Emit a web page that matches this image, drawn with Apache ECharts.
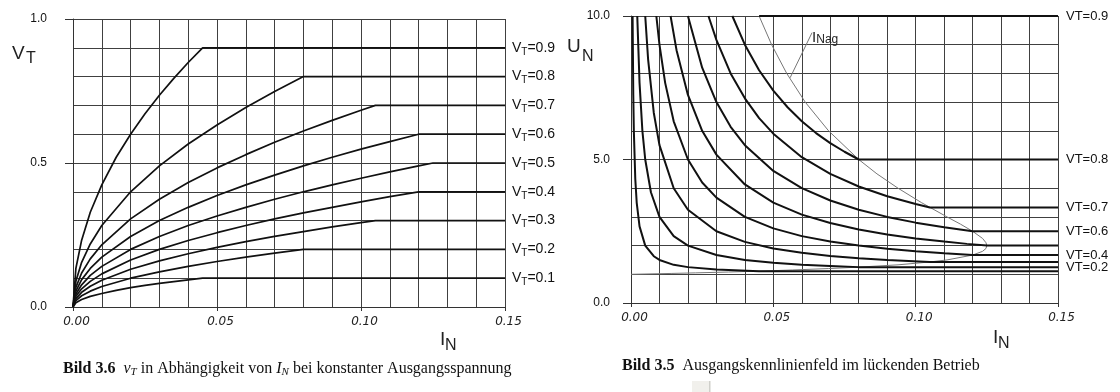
<!DOCTYPE html>
<html>
<head>
<meta charset="utf-8">
<script src="https://cdn.jsdelivr.net/npm/echarts@6/dist/echarts.min.js"></script>
<style>
html,body{margin:0;padding:0;background:#fff;}
#c{width:1120px;height:392px;}
</style>
</head>
<body>
<div id="c"></div>
<script>
// ---------- Left chart (Bild 3.6): v_T vs I_N ----------
const leftLevels = ['0.9','0.8','0.7','0.6','0.5','0.4','0.3','0.2','0.1'];
const leftV09 = [[0,0],[0.001,0.134],[0.003,0.232],[0.006,0.329],[0.01,0.424],[0.015,0.52],[0.02,0.6],[0.025,0.671],[0.03,0.735],[0.035,0.794],[0.04,0.849],[0.045,0.9],[0.15,0.9]];
const leftV08 = [[0,0],[0.001,0.089],[0.003,0.155],[0.006,0.219],[0.01,0.283],[0.02,0.4],[0.03,0.49],[0.04,0.566],[0.05,0.632],[0.06,0.693],[0.07,0.748],[0.08,0.8],[0.15,0.8]];
const leftV07 = [[0,0],[0.001,0.068],[0.003,0.118],[0.006,0.167],[0.01,0.216],[0.02,0.306],[0.03,0.374],[0.04,0.432],[0.05,0.483],[0.06,0.529],[0.07,0.572],[0.08,0.611],[0.09,0.648],[0.1,0.683],[0.105,0.7],[0.15,0.7]];
const leftV06 = [[0,0],[0.001,0.055],[0.003,0.095],[0.006,0.134],[0.01,0.173],[0.02,0.245],[0.03,0.3],[0.04,0.346],[0.05,0.387],[0.06,0.424],[0.07,0.458],[0.08,0.49],[0.09,0.52],[0.1,0.548],[0.11,0.574],[0.12,0.6],[0.15,0.6]];
const leftV05 = [[0,0],[0.001,0.045],[0.003,0.077],[0.006,0.11],[0.01,0.141],[0.02,0.2],[0.03,0.245],[0.04,0.283],[0.05,0.316],[0.06,0.346],[0.07,0.374],[0.08,0.4],[0.09,0.424],[0.1,0.447],[0.11,0.469],[0.12,0.49],[0.125,0.5],[0.15,0.5]];
const leftV04 = [[0,0],[0.001,0.037],[0.003,0.063],[0.006,0.089],[0.01,0.115],[0.02,0.163],[0.03,0.2],[0.04,0.231],[0.05,0.258],[0.06,0.283],[0.07,0.306],[0.08,0.327],[0.09,0.346],[0.1,0.365],[0.11,0.383],[0.12,0.4],[0.15,0.4]];
const leftV03 = [[0,0],[0.001,0.029],[0.003,0.051],[0.006,0.072],[0.01,0.093],[0.02,0.131],[0.03,0.16],[0.04,0.185],[0.05,0.207],[0.06,0.227],[0.07,0.245],[0.08,0.262],[0.09,0.278],[0.1,0.293],[0.105,0.3],[0.15,0.3]];
const leftV02 = [[0,0],[0.001,0.022],[0.003,0.039],[0.006,0.055],[0.01,0.071],[0.02,0.1],[0.03,0.122],[0.04,0.141],[0.05,0.158],[0.06,0.173],[0.07,0.187],[0.08,0.2],[0.15,0.2]];
const leftV01 = [[0,0],[0.001,0.015],[0.003,0.026],[0.006,0.037],[0.01,0.047],[0.015,0.058],[0.02,0.067],[0.025,0.075],[0.03,0.082],[0.035,0.088],[0.04,0.094],[0.045,0.1],[0.15,0.1]];
const leftCurves = [leftV09,leftV08,leftV07,leftV06,leftV05,leftV04,leftV03,leftV02,leftV01];

// ---------- Right chart (Bild 3.5): U_N vs I_N ----------
const rightLevels = ['0.9','0.8','0.7','0.6','0.5','0.4','0.3','0.2','0.1'];
const rightLabelled = ['0.9','0.8','0.7','0.6','0.4','0.2'];
const right09 = [[0.045,10],[0.15,10]];
const right08 = [[0.0356,10],[0.04,9.0],[0.045,8.11],[0.05,7.4],[0.055,6.82],[0.06,6.33],[0.065,5.92],[0.07,5.57],[0.075,5.27],[0.08,5.0],[0.15,5.0]];
const right07 = [[0.0272,10],[0.03,9.17],[0.035,8.0],[0.04,7.13],[0.045,6.44],[0.05,5.9],[0.06,5.08],[0.07,4.5],[0.08,4.06],[0.09,3.72],[0.1,3.45],[0.105,3.33],[0.15,3.33]];
const right06 = [[0.02,10],[0.025,8.2],[0.03,7.0],[0.035,6.14],[0.04,5.5],[0.05,4.6],[0.06,4.0],[0.07,3.57],[0.08,3.25],[0.09,3.0],[0.1,2.8],[0.11,2.64],[0.12,2.5],[0.15,2.5]];
const right05 = [[0.0139,10],[0.016,8.81],[0.02,7.25],[0.025,6.0],[0.03,5.17],[0.04,4.13],[0.05,3.5],[0.06,3.08],[0.07,2.79],[0.08,2.56],[0.09,2.39],[0.1,2.25],[0.11,2.14],[0.118,2.06],[0.125,2.0],[0.15,2.0]];
const right04 = [[0.0089,10],[0.01,9.0],[0.012,7.67],[0.015,6.33],[0.02,5.0],[0.025,4.2],[0.03,3.67],[0.04,3.0],[0.05,2.6],[0.06,2.33],[0.07,2.14],[0.08,2.0],[0.09,1.89],[0.1,1.8],[0.11,1.73],[0.12,1.67],[0.15,1.67]];
const right03 = [[0.005,10],[0.006,8.5],[0.008,6.63],[0.01,5.5],[0.015,4.0],[0.02,3.25],[0.03,2.5],[0.04,2.13],[0.05,1.9],[0.06,1.75],[0.07,1.64],[0.08,1.56],[0.09,1.5],[0.105,1.43],[0.15,1.43]];
const right02 = [[0.0022,10],[0.003,7.67],[0.004,6.0],[0.005,5.0],[0.007,3.86],[0.01,3.0],[0.015,2.33],[0.02,2.0],[0.03,1.67],[0.04,1.5],[0.05,1.4],[0.06,1.33],[0.07,1.29],[0.08,1.25],[0.15,1.25]];
const right01 = [[0.00056,10],[0.0008,7.25],[0.001,6.0],[0.0015,4.33],[0.002,3.5],[0.003,2.67],[0.005,2.0],[0.008,1.63],[0.01,1.5],[0.015,1.33],[0.02,1.25],[0.03,1.17],[0.045,1.11],[0.15,1.11]];
const rightCurves = [right09,right08,right07,right06,right05,right04,right03,right02,right01];
const nagBoundary = [[0.045,10],[0.0494,9],[0.0547,8],[0.0612,7],[0.0694,6],[0.08,5],[0.0864,4.5],[0.0938,4],[0.102,3.5],[0.111,3],[0.1157,2.75],[0.12,2.5],[0.1235,2.25],[0.1247,2.1],[0.125,2.0],[0.1247,1.9],[0.1235,1.8],[0.12,1.67],[0.111,1.5],[0.105,1.43],[0.0938,1.33],[0.08,1.25],[0.0694,1.2],[0.0567,1.15],[0.045,1.11],[0.0343,1.08],[0.0227,1.05],[0.0141,1.03],[0.0049,1.01],[0,1.0]];
const nagLeader = [[0.0559,7.85],[0.0636,9.42]];

// ---------- styling helpers ----------
const GRID_C = '#404040';
const CURVE_C = '#111';
function xAxisDef(gi){
  return {
    gridIndex: gi, type:'value', min:0, max:0.15, interval:0.05,
    axisLine:{show:true, lineStyle:{color:'#333', width:1}},
    axisTick:{show:true, length:4, lineStyle:{color:'#333'}},
    axisLabel:{formatter:v=>v.toFixed(2), fontStyle:'italic', fontFamily:'DejaVu Sans', fontSize:12, color:'#222', margin:9, padding:[0,0,0,7]},
    splitLine:{show:true, lineStyle:{color:GRID_C, width:1}},
    minorTick:{show:false, splitNumber:5},
    minorSplitLine:{show:true, lineStyle:{color:GRID_C, width:1}}
  };
}
function yAxisDef(gi, max, interval, margin){
  return {
    gridIndex: gi, type:'value', min:0, max:max, interval:interval,
    axisLine:{show:true, lineStyle:{color:'#333', width:1}},
    axisTick:{show:true, length:8, lineStyle:{color:'#333'}},
    axisLabel:{formatter:v=>v.toFixed(1), fontFamily:'Liberation Sans', fontSize:12, color:'#111', margin:margin},
    splitLine:{show:true, lineStyle:{color:GRID_C, width:1}},
    minorTick:{show:false, splitNumber:5},
    minorSplitLine:{show:true, lineStyle:{color:GRID_C, width:1}}
  };
}

const series = [];
leftCurves.forEach((d,i)=>{
  const lv = leftLevels[i];
  series.push({
    type:'line', xAxisIndex:0, yAxisIndex:0, data:d, showSymbol:false, silent:true,
    lineStyle:{color:CURVE_C, width:1.7}, z:5,
    endLabel:{show:true, distance:7, formatter:'V{s|T}=' + lv, fontFamily:'Liberation Sans', fontSize:14, color:'#111',
      rich:{s:{fontFamily:'Liberation Sans', fontSize:10, color:'#111', padding:[8,0,0,0]}}}
  });
});
rightCurves.forEach((d,i)=>{
  const lv = rightLevels[i];
  series.push({
    type:'line', xAxisIndex:1, yAxisIndex:1, data:d, showSymbol:false, silent:true,
    lineStyle:{color:CURVE_C, width:2}, z:5,
    endLabel:{show: rightLabelled.indexOf(lv) >= 0, distance:8, formatter:'VT=' + lv, fontFamily:'Liberation Sans', fontSize:13, color:'#111'}
  });
});
series.push({
  type:'line', xAxisIndex:1, yAxisIndex:1, data:nagBoundary, showSymbol:false, silent:true,
  lineStyle:{color:'#777', width:1}, z:4
});
series.push({
  type:'line', xAxisIndex:1, yAxisIndex:1, data:nagLeader, showSymbol:false, silent:true,
  lineStyle:{color:'#777', width:1}, z:4,
  endLabel:{show:true, distance:0, offset:[0,5], formatter:'I{s|Nag}', fontFamily:'Liberation Sans', fontSize:15, color:'#222',
    rich:{s:{fontFamily:'Liberation Sans', fontSize:12, color:'#222', padding:[5,0,0,0]}}}
});

const chart = echarts.init(document.getElementById('c'), null, {renderer:'canvas'});
chart.setOption({
  animation:false,
  backgroundColor:'#fff',
  grid:[{left:73, top:19, width:432, height:288},{left:631, top:16, width:427, height:287}],
  xAxis:[xAxisDef(0), xAxisDef(1)],
  yAxis:[yAxisDef(0,1,0.5,26), yAxisDef(1,10,5,21)],
  series: series,
  graphic:[
    {type:'text', left:12, top:44, style:{text:'V', font:'19px "Liberation Sans"', fill:'#222'}},
    {type:'text', left:26, top:51, style:{text:'T', font:'16px "Liberation Sans"', fill:'#222'}},
    {type:'text', left:440, top:330, style:{text:'I', font:'19px "Liberation Sans"', fill:'#222'}},
    {type:'text', left:445, top:338, style:{text:'N', font:'16px "Liberation Sans"', fill:'#222'}},
    {type:'text', left:567, top:37, style:{text:'U', font:'19px "Liberation Sans"', fill:'#222'}},
    {type:'text', left:582, top:49, style:{text:'N', font:'16px "Liberation Sans"', fill:'#222'}},
    {type:'text', left:993, top:328, style:{text:'I', font:'19px "Liberation Sans"', fill:'#222'}},
    {type:'text', left:998, top:336, style:{text:'N', font:'16px "Liberation Sans"', fill:'#222'}},
    {type:'text', left:63, top:361, style:{
      text:'{b|Bild 3.6}  {i|v}{is|T} in Abhängigkeit von {i|I}{is|N} bei konstanter Ausgangsspannung',
      font:'16px "Liberation Serif"', fill:'#111',
      rich:{b:{font:'bold 16px "Liberation Serif"', fill:'#111'}, i:{font:'italic 16px "Liberation Serif"', fill:'#111'}, is:{font:'italic 11px "Liberation Serif"', fill:'#111', padding:[6,0,0,0]}}
    }},
    {type:'text', left:622, top:358, style:{
      text:'{b|Bild 3.5}  Ausgangskennlinienfeld im lückenden Betrieb',
      font:'16px "Liberation Serif"', fill:'#111',
      rich:{b:{font:'bold 16px "Liberation Serif"', fill:'#111'}}
    }},
    {type:'rect', left:692, top:381, shape:{width:17, height:11}, style:{fill:'#f1f0ec'}},
    {type:'rect', left:709, top:381, shape:{width:1.5, height:11}, style:{fill:'#cfcfca'}}
  ]
});
</script>
</body>
</html>
